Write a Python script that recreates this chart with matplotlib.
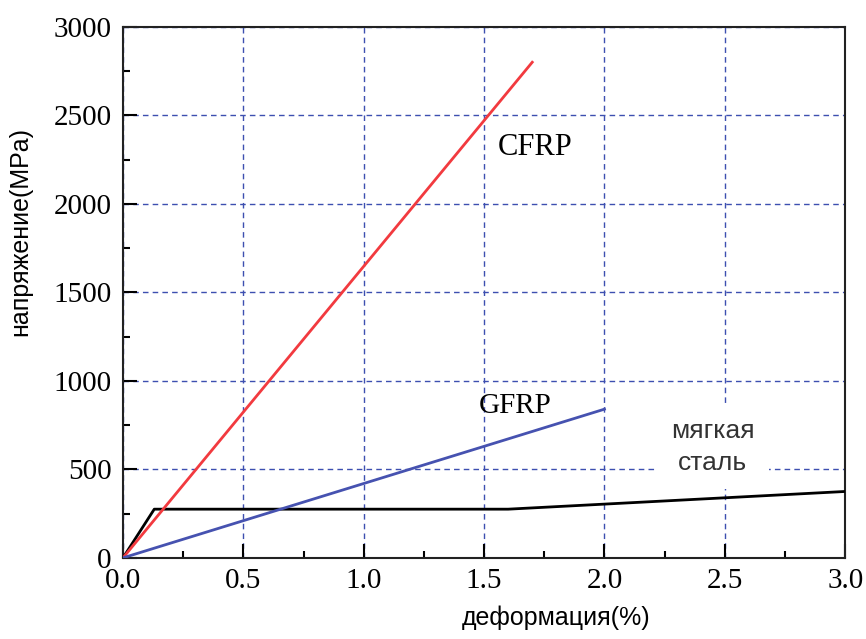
import numpy as np
import matplotlib
matplotlib.use('Agg')
import matplotlib.pyplot as plt
from matplotlib.ticker import MultipleLocator

# Daten
cfrp_x = [0.0, 1.7]
cfrp_y = [0, 2800]
gfrp_x = [0.0, 2.0]
gfrp_y = [0, 840]
steel_x = [0.0, 0.13, 1.6, 3.0]
steel_y = [0, 275, 275, 375]

x_ticks = [0.0, 0.5, 1.0, 1.5, 2.0, 2.5, 3.0]
y_ticks = [0, 500, 1000, 1500, 2000, 2500, 3000]

fsize = 21
grid_col = "#3d4fb0"

fig = plt.figure(figsize=(8.66, 6.39), dpi=100)
ax = fig.add_axes([0.142, 0.127, 0.834, 0.831])

ax.plot(steel_x, steel_y, color="black", lw=2, zorder=3)
ax.plot(cfrp_x, cfrp_y, color="#f23a3f", lw=2, zorder=4)
ax.plot(gfrp_x, gfrp_y, color="#4652b0", lw=2, zorder=4)

ax.set_xlim(0, 3.0)
ax.set_ylim(0, 3000)
ax.set_xticks(x_ticks)
ax.set_yticks(y_ticks)
ax.set_xticklabels(["%.1f" % v for v in x_ticks], family="Liberation Serif", fontsize=fsize)
ax.set_yticklabels([str(v) for v in y_ticks], family="Liberation Serif", fontsize=fsize)
ax.xaxis.set_minor_locator(MultipleLocator(0.25))
ax.yaxis.set_minor_locator(MultipleLocator(250))
ax.tick_params(axis="both", which="both", direction="in", top=False, right=False)
ax.tick_params(axis="both", which="major", length=10, width=1.5)
ax.tick_params(axis="x", which="major", pad=7)
ax.tick_params(axis="y", which="major", pad=8)
ax.tick_params(axis="both", which="minor", length=5, width=1.5)

ax.grid(True, which="major", color=grid_col, linestyle=(0, (4, 3)), lw=1)
ax.set_axisbelow(True)
for s in ax.spines.values():
    s.set_linewidth(1.5)
    s.set_color("#222222")

ax.set_xlabel("деформация(%)", family="Liberation Sans", fontsize=18)
ax.set_ylabel("напряжение(MPa)", family="Liberation Sans", fontsize=18)
ax.xaxis.set_label_coords(0.60, -0.09)
ax.yaxis.set_label_coords(-0.125, 0.615)

ax.text(1.71, 2320, "CFRP", family="Liberation Serif", fontsize=22, ha="center", va="center")
ax.text(1.63, 860, "GFRP", family="Liberation Serif", fontsize=21, ha="center", va="center")
ax.text(2.45, 625, "мягкая\nсталь", family="Liberation Sans", fontsize=19, ha="center",
        va="center", linespacing=1.45, color="#333333",
        bbox=dict(facecolor="white", edgecolor="none", pad=10), zorder=2)

fig.savefig("out.png", dpi=100)
